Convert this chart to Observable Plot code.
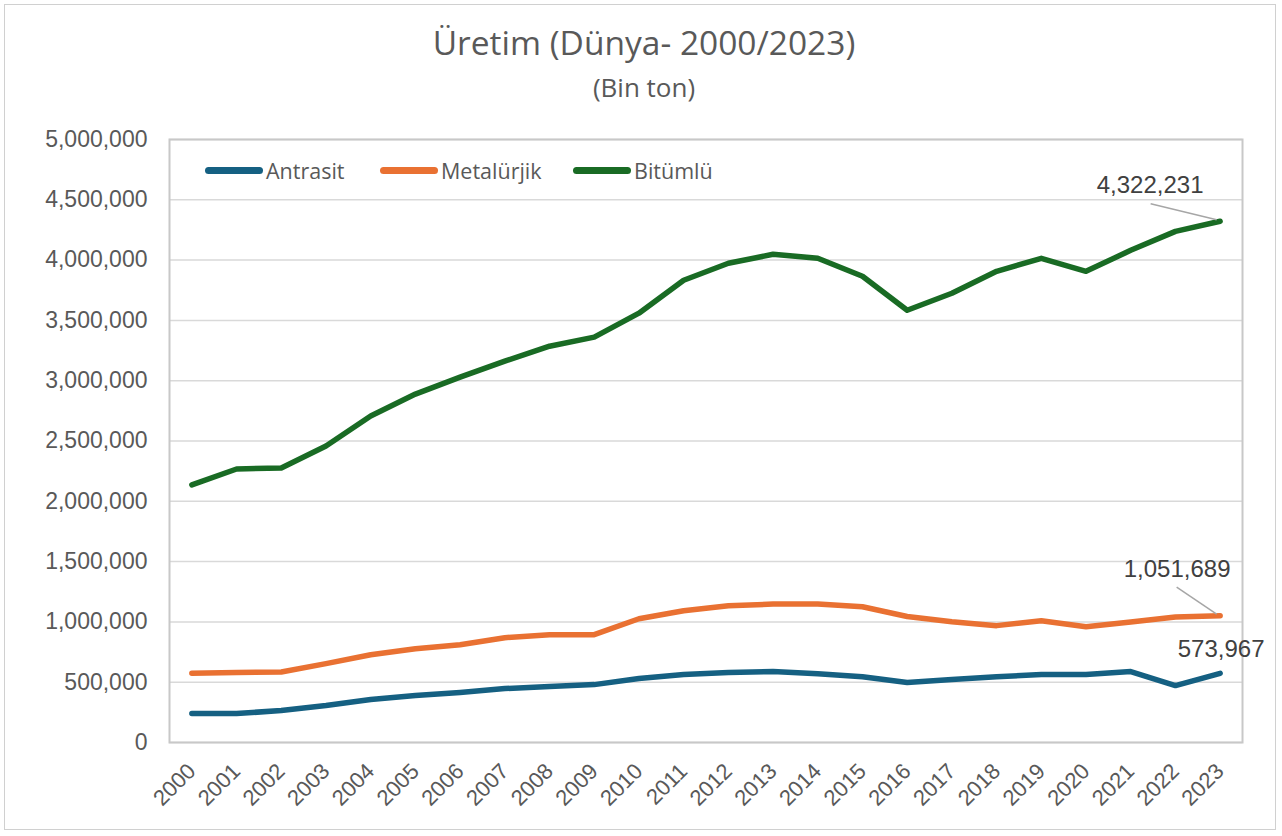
<!DOCTYPE html>
<html><head><meta charset="utf-8">
<script src="https://cdn.jsdelivr.net/npm/d3@7"></script>
<script src="https://cdn.jsdelivr.net/npm/@observablehq/plot@0.6"></script>
<style>
body{margin:0;background:#fff;}
#wrap{position:relative;width:1282px;height:836px;overflow:hidden;}
#frame{position:absolute;left:4px;top:4px;width:1272px;height:826px;border:1px solid #d0d0d0;box-sizing:border-box;pointer-events:none;}
#head{height:125px;position:relative;font-family:"Open Sans",sans-serif;color:#595959;}
#t1{position:absolute;top:21px;width:100%;left:3px;text-align:center;font-size:33.5px;line-height:42px;}
#t2{position:absolute;top:70px;width:100%;left:3px;text-align:center;font-size:26px;line-height:34px;}
#legend{position:absolute;top:157px;left:0;font-family:"Open Sans",sans-serif;font-size:21.5px;color:#595959;}
.li{position:absolute;display:flex;align-items:center;white-space:nowrap;height:26px;}
.sw{width:58px;height:7px;border-radius:3.5px;margin-right:3px;}
</style></head>
<body><div id="wrap"><div id="head"><div id="t1">Üretim (Dünya- 2000/2023)</div><div id="t2">(Bin ton)</div></div><div id="legend"></div><div id="frame"></div></div>
<script>
const years = [2000,2001,2002,2003,2004,2005,2006,2007,2008,2009,2010,2011,2012,2013,2014,2015,2016,2017,2018,2019,2020,2021,2022,2023];
const seriesNames = ["Antrasit","Metalürjik","Bitümlü"];
const seriesColors = ["#156082","#E97132","#196B24"];
const antrasit = [240000,240000,265000,306000,356000,389000,414000,447000,464000,480000,530000,563000,580000,588000,571000,546000,497000,522000,546000,563000,563000,588000,472000,573967];
const metalurjik = [575000,580000,585000,654000,728000,778000,811000,869000,894000,894000,1026000,1093000,1134000,1148000,1148000,1126000,1045000,1002000,969000,1010000,960000,1000000,1040000,1051689];
const bitumlu = [2136000,2268000,2276000,2459000,2707000,2889000,3030000,3162000,3286000,3361000,3560000,3833000,3974000,4048000,4015000,3866000,3584000,3725000,3907000,4015000,3907000,4081000,4238000,4322231];
const yTicks = [0,500000,1000000,1500000,2000000,2500000,3000000,3500000,4000000,4500000,5000000];
const endLabels = ["573,967","1,051,689","4,322,231"];

const valuesBySeries = [antrasit, metalurjik, bitumlu];
const data = [];
seriesNames.forEach((s,i)=>years.forEach((y,j)=>data.push({series:s, year:y, value:valuesBySeries[i][j]})));
const lastPts = seriesNames.map((s,i)=>({series:s, year:2023, value:valuesBySeries[i][23], label:endLabels[i]}));

const chart = Plot.plot({
  width:1282, height:711,
  marginTop:14, marginBottom:94, marginLeft:169, marginRight:40,
  style:{fontFamily:"'Liberation Sans', Arial, sans-serif", color:"#595959", background:"transparent"},
  x:{type:"linear", domain:[years[0]-0.5, years[years.length-1]+0.5]},
  y:{domain:[0,5000000]},
  color:{domain:seriesNames, range:seriesColors},
  marks:[
    Plot.ruleY(yTicks, {stroke:"#d9d9d9", strokeWidth:1.5}),
    Plot.frame({stroke:"#c8c8c8", strokeWidth:2}),
    Plot.axisY({ticks:yTicks, tickFormat:d3.format(","), tickSize:0, tickPadding:22, fontSize:23, label:null}),
    Plot.axisX({ticks:years, tickFormat:d=>String(d), tickRotate:-45, tickSize:0, tickPadding:25, fontSize:22, label:null}),
    Plot.line(data, {x:"year", y:"value", z:"series", stroke:"series", strokeWidth:5.5, strokeLinecap:"round", strokeLinejoin:"round"}),
    Plot.text(lastPts.filter(d=>d.series==="Bitümlü"), {x:"year", y:"value", text:"label", dx:-70, dy:-36, fontSize:24, fill:"#404040"}),
    Plot.text(lastPts.filter(d=>d.series==="Metalürjik"), {x:"year", y:"value", text:"label", dx:-43, dy:-46, fontSize:24, fill:"#404040"}),
    Plot.text(lastPts.filter(d=>d.series==="Antrasit"), {x:"year", y:"value", text:"label", dx:1, dy:-24, fontSize:24, fill:"#404040"})
  ]
});
document.getElementById("wrap").insertBefore(chart, document.getElementById("legend"));

// leader lines from labels to points, positioned via the plot's own scales
const sx = chart.scale("x"), sy = chart.scale("y");
const svg = d3.select(chart);
const leaders = [{series:"Bitümlü", dx:-69, dy:-17}, {series:"Metalürjik", dx:-43, dy:-28}];
leaders.forEach(l=>{
  const p = lastPts.find(d=>d.series===l.series);
  const px = sx.apply(p.year), py = sy.apply(p.value);
  svg.append("line").attr("x1",px+l.dx).attr("y1",py+l.dy).attr("x2",px-3).attr("y2",py-1)
    .attr("stroke","#a6a6a6").attr("stroke-width",1.5);
});

// legend
const legendLefts = [205,380,573];
const lg = document.getElementById("legend");
seriesNames.forEach((s,i)=>{
  const d = document.createElement("div"); d.className="li"; d.style.left=legendLefts[i]+"px";
  d.innerHTML = `<span class="sw" style="background:${seriesColors[i]}"></span><span>${s}</span>`;
  lg.appendChild(d);
});
</script></body></html>
